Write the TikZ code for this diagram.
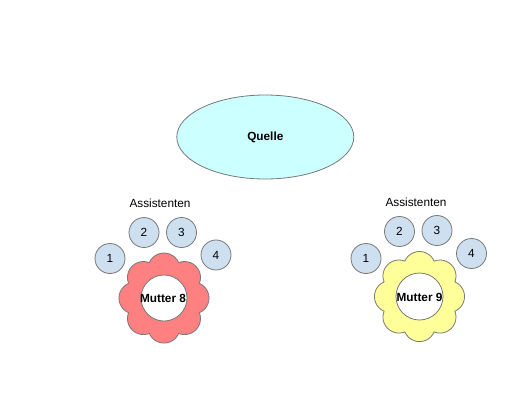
\documentclass[tikz,border=0pt]{standalone}
\usepackage{fontspec}
\setmainfont{Liberation Sans}
\usetikzlibrary{shapes.geometric}
\definecolor{edgegray}{RGB}{120,120,120}
\definecolor{quellecyan}{RGB}{204,255,255}
\definecolor{asstblue}{RGB}{206,224,240}
\definecolor{flowerpink}{RGB}{255,128,128}
\definecolor{floweryellow}{RGB}{255,255,153}
\tikzset{
  txt/.style={font=\fontsize{11.8}{14}\selectfont, inner sep=0pt},
  txtbold/.style={font=\fontsize{11.8}{14}\selectfont\bfseries, inner sep=0pt},
  asst/.style={circle, draw=edgegray, fill=asstblue, line width=0.8pt, minimum size=30pt, inner sep=0pt, font=\fontsize{11.8}{14}\selectfont},
  quellestyle/.style={ellipse, draw=edgegray, fill=quellecyan, line width=0.8pt, minimum width=177pt, minimum height=84pt, inner sep=0pt, font=\fontsize{11.8}{14}\selectfont\bfseries},
  flowerline/.style={draw=edgegray, line width=0.8pt},
  holestyle/.style={draw=edgegray, fill=white, line width=0.8pt}
}
\begin{document}
\begin{tikzpicture}[x=1pt,y=-1pt]
\fill[white] (0,0) rectangle (530,410);
\useasboundingbox (0,0) rectangle (530,410);

\node[quellestyle] (quelle) at (265.3,137) {Quelle};

% left group
\node[txt] (assL) at (160,203) {Assistenten};
\node[asst] (L1) at (110,258.5) {1};
\node[asst] (L2) at (144,232.5) {2};
\node[asst] (L3) at (181.5,232.5) {3};
\node[asst] (L4) at (216,255) {4};
\begin{scope}[shift={(164,298)}]
  \draw[flowerline, fill=flowerpink] (67.5:38.3pt)
    \foreach \k in {0,...,7}{ arc[start angle={23.5+45*\k}, end angle={156.5+45*\k}, radius=16pt] } -- cycle;
  \draw[holestyle] (0,0) circle[radius=23pt];
\end{scope}
\node[txtbold] (m8) at (163,298.3) {Mutter 8};

% right group
\node[txt] (assR) at (416,202.7) {Assistenten};
\node[asst] (R1) at (366,258.5) {1};
\node[asst] (R2) at (399.5,231.5) {2};
\node[asst] (R3) at (437,230.5) {3};
\node[asst] (R4) at (471.5,253.5) {4};
\begin{scope}[shift={(419.5,296.5)}]
  \draw[flowerline, fill=floweryellow] (67.5:38.3pt)
    \foreach \k in {0,...,7}{ arc[start angle={23.5+45*\k}, end angle={156.5+45*\k}, radius=16pt] } -- cycle;
  \draw[holestyle] (0,0) circle[radius=23.5pt];
\end{scope}
\node[txtbold] (m9) at (419.5,297) {Mutter 9};
\end{tikzpicture}
\end{document}
